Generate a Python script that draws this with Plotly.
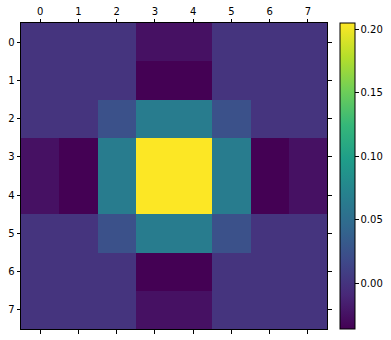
import plotly.graph_objects as go

# values
a = -0.025   # dark purple
m = -0.036   # darkest
b = 0.0      # background
c = 0.024    # blue
t = 0.065    # teal
Y = 0.205    # yellow

row0 = [b, b, b, a, a, b, b, b]
row1 = [b, b, b, m, m, b, b, b]
row2 = [b, b, c, t, t, c, b, b]
row3 = [a, m, t, Y, Y, t, m, a]
matrix = [row0, row1, row2, row3, list(row3), list(row2), list(row1), list(row0)]

idx = list(range(8))
cb_ticks = [0.0, 0.05, 0.10, 0.15, 0.20]

fig = go.Figure(go.Heatmap(
    z=matrix, x=idx, y=idx,
    colorscale="Viridis", zmin=-0.0362, zmax=0.2052,
    colorbar=dict(
        x=1.042, xanchor="left", xpad=0, y=0.5, yanchor="middle", ypad=0,
        len=1.0, lenmode="fraction", thickness=15, thicknessmode="pixels",
        outlinewidth=1, outlinecolor="black",
        tickvals=cb_ticks, tickformat=".2f", ticks="outside", ticklen=3.5,
        tickcolor="black", tickfont=dict(family="DejaVu Sans", size=10, color="black"),
    ),
))

axis_common = dict(
    tickvals=idx, ticks="outside", ticklen=3.5, tickcolor="black",
    showline=True, linecolor="black", linewidth=1, mirror="ticks",
    showgrid=False, zeroline=False, automargin=False,
    tickfont=dict(family="DejaVu Sans", size=10, color="black"),
)
fig.update_xaxes(side="top", range=[-0.5, 7.5], **axis_common)
fig.update_yaxes(range=[7.5, -0.5], **axis_common)

fig.update_layout(
    width=391, height=340,
    margin=dict(l=21, r=64, t=23, b=11, autoexpand=False),
    paper_bgcolor="white", plot_bgcolor="white",
)

fig.write_html("out.html")
